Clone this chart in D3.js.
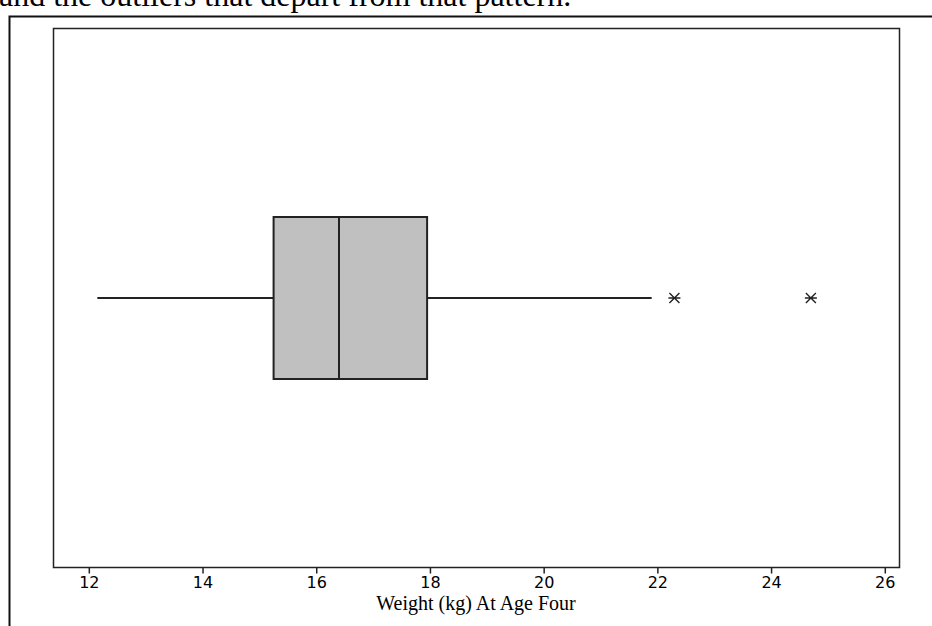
<!DOCTYPE html>
<html>
<head>
<meta charset="utf-8">
<script src="https://cdn.jsdelivr.net/npm/d3@7"></script>
<style>
	body { margin: 0; background: #fff; }
	svg { display: block; }
</style>
</head>
<body>
<div id="chart1"></div>
<script>
// five-number summary (kg)
var summary = [12.15, 15.25, 16.4, 17.95, 21.9];
var outliers = [22.3, 24.7];
var xTicks = [12, 14, 16, 18, 20, 22, 24, 26];
var xDomain = [11.37, 26.25];
var xTitle = 'Weight (kg) At Age Four';
var caption = 'and the outliers that depart from that pattern.';

(() => {

	var W = 932, H = 626;
	var box = { left: 53, right: 899, top: 28, bottom: 567 };

	var svg = d3.select('#chart1')
				.append('svg')
				.attr('width', W)
				.attr('height', H);

	// page text, cut at the top edge as in the scan
	svg.append('text')
		.attr('x', -1)
		.attr('y', 6)
		.attr('font-family', '"Liberation Serif", "Times New Roman", serif')
		.attr('font-size', 32)
		.attr('fill', '#000')
		.text(caption);

	// outer frame (left + top)
	svg.append('path')
		.attr('d', 'M9.5,' + H + 'V16.5H' + W)
		.attr('fill', 'none')
		.attr('stroke', '#111')
		.attr('stroke-width', 2);

	var x = d3.scaleLinear()
				.domain(xDomain)
				.range([box.left, box.right]);

	var y = d3.scaleLinear()
				.domain([0, 1])
				.range([box.bottom, box.top]);

	var cy = y(0.5) + 0.5;
	var halfH = 81;

	// plot area frame
	svg.append('rect')
		.attr('x', box.left + 0.5)
		.attr('y', box.top + 0.5)
		.attr('width', box.right - box.left)
		.attr('height', box.bottom - box.top)
		.attr('fill', 'none')
		.attr('stroke', '#222')
		.attr('stroke-width', 1.5);

	// axis
	var axis = svg.append('g')
		.attr('transform', 'translate(0,' + (box.bottom + 0.5) + ')')
		.call(
			d3.axisBottom(x)
				.tickValues(xTicks)
				.tickSize(6)
				.tickPadding(3)
				.tickSizeOuter(0)
		);
	axis.select('.domain').remove();
	axis.selectAll('.tick line').attr('stroke', '#222').attr('stroke-width', 1.5);
	axis.selectAll('.tick text')
		.attr('font-family', '"DejaVu Sans", Tahoma, sans-serif')
		.attr('font-size', 16)
		.attr('fill', '#000');

	svg.append('text')
		.attr('x', (box.left + box.right) / 2)
		.attr('y', 610)
		.attr('text-anchor', 'middle')
		.attr('font-family', '"Liberation Serif", "Times New Roman", serif')
		.attr('font-size', 20)
		.attr('fill', '#000')
		.text(xTitle);

	// whiskers
	var g = svg.append('g')
				.attr('stroke', '#222')
				.attr('stroke-width', 2);

	g.selectAll('line.whisker')
		.data([[summary[0], summary[1]], [summary[3], summary[4]]])
		.enter()
			.append('line')
			.attr('class', 'whisker')
			.attr('x1', d => x(d[0]))
			.attr('x2', d => x(d[1]))
			.attr('y1', cy)
			.attr('y2', cy);

	g.append('rect')
		.attr('x', x(summary[1]))
		.attr('y', cy - halfH)
		.attr('width', x(summary[3]) - x(summary[1]))
		.attr('height', halfH * 2)
		.attr('fill', '#c0c0c0');

	g.append('line')
		.attr('x1', x(summary[2]))
		.attr('x2', x(summary[2]))
		.attr('y1', cy - halfH)
		.attr('y2', cy + halfH);

	// outliers as asterisks
	var s = 5;
	svg.selectAll('path.outlier')
		.data(outliers)
		.enter()
			.append('path')
			.attr('class', 'outlier')
			.attr('transform', d => 'translate(' + x(d) + ',' + cy + ')')
			.attr('d', 'M' + (-s) + ',' + (-s) + 'L' + s + ',' + s +
				'M' + (-s) + ',' + s + 'L' + s + ',' + (-s) +
				'M' + (-s - 1) + ',0H' + (s + 1))
			.attr('fill', 'none')
			.attr('stroke', '#222')
			.attr('stroke-width', 1.4);

})();
</script>
</body>
</html>
